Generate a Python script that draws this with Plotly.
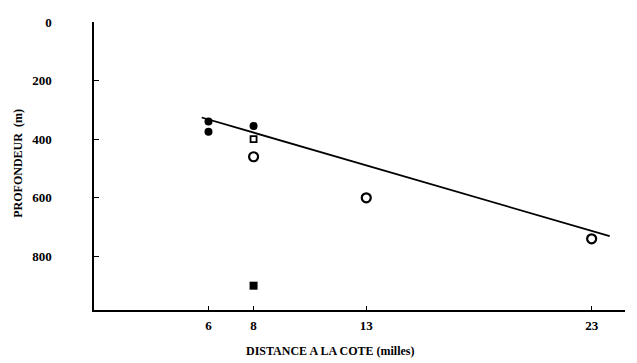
import plotly.graph_objects as go

# Data (distance in miles, depth in m)
filled_circle_x = [6, 6, 8]
filled_circle_y = [340, 375, 355]
open_circle_x = [8, 13, 23]
open_circle_y = [460, 600, 740]
open_square_x = [8]
open_square_y = [400]
filled_square_x = [8]
filled_square_y = [900]
line_x = [5.7, 23.8]
line_y = [326, 731]

x_ticks = [6, 8, 13, 23]
y_ticks = [0, 200, 400, 600, 800]

font_family = "Liberation Serif, Times New Roman, serif"

fig = go.Figure()
fig.add_trace(go.Scatter(x=line_x, y=line_y, mode="lines",
                         line=dict(color="black", width=1.8), showlegend=False))
fig.add_trace(go.Scatter(x=filled_circle_x, y=filled_circle_y, mode="markers",
                         marker=dict(symbol="circle", size=8, color="black"), showlegend=False))
fig.add_trace(go.Scatter(x=open_circle_x, y=open_circle_y, mode="markers",
                         marker=dict(symbol="circle-open", size=9, color="black",
                                     line=dict(width=2.2, color="black")), showlegend=False))
fig.add_trace(go.Scatter(x=open_square_x, y=open_square_y, mode="markers",
                         marker=dict(symbol="square-open", size=6, color="black",
                                     line=dict(width=1.8, color="black")), showlegend=False))
fig.add_trace(go.Scatter(x=filled_square_x, y=filled_square_y, mode="markers",
                         marker=dict(symbol="square", size=8, color="black"), showlegend=False))

fig.update_layout(
    width=637, height=363,
    margin=dict(l=86, r=20, t=7, b=61),
    paper_bgcolor="white", plot_bgcolor="white",
    font=dict(family=font_family, color="black", size=13),
    xaxis=dict(range=[0.92, 24.48], tickvals=x_ticks, ticktext=[str(v) for v in x_ticks],
               showgrid=False, zeroline=False, showline=True, linecolor="black", linewidth=1.5,
               ticks="inside", ticklen=4, tickcolor="black",
               tickfont=dict(family=font_family, size=13, weight="bold"),
               ticklabelstandoff=3, ticklabeloverflow="allow"),
    yaxis=dict(range=[983, 0], tickvals=y_ticks, ticktext=[str(v) for v in y_ticks],
               showgrid=False, zeroline=False, showline=True, linecolor="black", linewidth=1.5,
               ticks="inside", ticklen=5, tickcolor="black",
               tickfont=dict(family=font_family, size=13, weight="bold"),
               ticklabelstandoff=38, ticklabeloverflow="allow"),
    annotations=[
        dict(text="PROFONDEUR  (m)", xref="paper", yref="paper", x=-0.143, y=0.508,
             textangle=-90, showarrow=False, xanchor="center", yanchor="middle",
             font=dict(family=font_family, size=12, weight="bold")),
        dict(text="DISTANCE A LA COTE (milles)", xref="paper", yref="paper", x=0.444, y=-0.142,
             showarrow=False, xanchor="center", yanchor="middle",
             font=dict(family=font_family, size=12, weight="bold")),
    ],
)

fig.write_html("out.html")
